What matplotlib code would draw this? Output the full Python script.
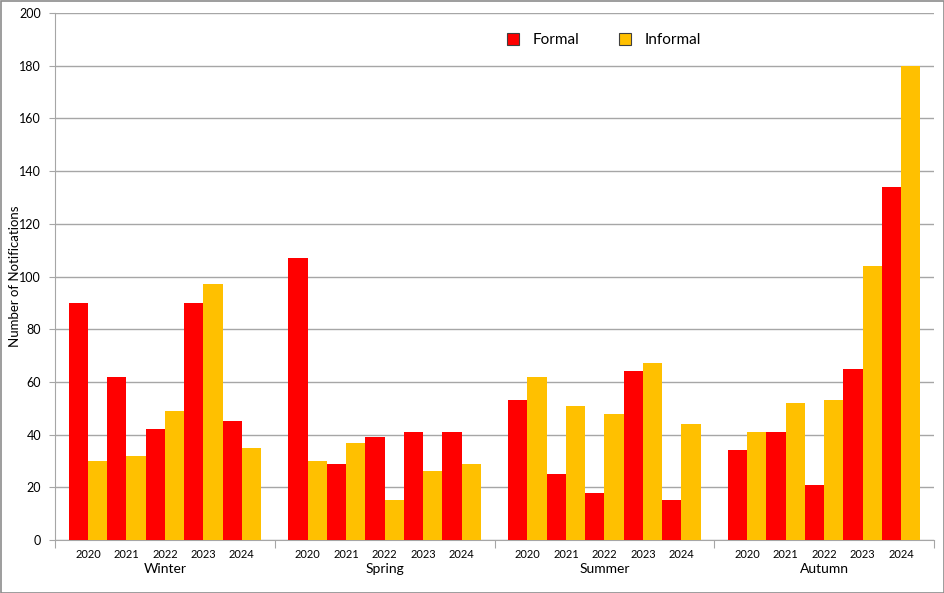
import numpy as np
import matplotlib.pyplot as plt
from matplotlib.patches import Patch, Rectangle

plt.rcParams['font.family'] = ['Lato', 'DejaVu Sans']

seasons = ['Winter', 'Spring', 'Summer', 'Autumn']
years = ['2020', '2021', '2022', '2023', '2024']

formal = {
    'Winter': [90, 62, 42, 90, 45],
    'Spring': [107, 29, 39, 41, 41],
    'Summer': [53, 25, 18, 64, 15],
    'Autumn': [34, 41, 21, 65, 134],
}
informal = {
    'Winter': [30, 32, 49, 97, 35],
    'Spring': [30, 37, 15, 26, 29],
    'Summer': [62, 51, 48, 67, 44],
    'Autumn': [41, 52, 53, 104, 180],
}

red = '#FF0000'
gold = '#FFC000'
grid_col = '#A6A6A6'

fig = plt.figure(figsize=(9.45, 5.93), dpi=100)
ax = fig.add_axes([55 / 945, 1 - 540 / 593, 879 / 945, 527 / 593])

step = 5 + 0.714  # one season block incl. gap
w = 0.5
for s, season in enumerate(seasons):
    x = s * step + np.arange(len(years))
    ax.bar(x - w / 2, formal[season], width=w, color=red, zorder=3)
    ax.bar(x + w / 2, informal[season], width=w, color=gold, zorder=3)
    for xi, yr in zip(x, years):
        ax.annotate(yr, xy=(xi, 0), xycoords=('data', 'axes fraction'),
                    xytext=(0, -14), textcoords='offset pixels',
                    ha='center', va='center', fontsize=8)
    ax.annotate(season, xy=(x.mean(), 0), xycoords=('data', 'axes fraction'),
                xytext=(0, -29), textcoords='offset pixels',
                ha='center', va='center', fontsize=10)

left = -0.857
ax.set_xlim(left, left + len(seasons) * step)
ax.set_ylim(0, 200)
ax.set_yticks(np.arange(0, 201, 20))
ax.tick_params(axis='y', labelsize=9, length=4, color=grid_col, pad=6)

bounds = left + step * np.arange(len(seasons) + 1)
ax.set_xticks(bounds)
ax.set_xticklabels([''] * len(bounds))
ax.tick_params(axis='x', length=6, color=grid_col)

ax.yaxis.grid(True, color=grid_col, linewidth=1)
ax.set_axisbelow(True)
for side in ['top', 'right']:
    ax.spines[side].set_visible(False)
for side in ['left', 'bottom']:
    ax.spines[side].set_color(grid_col)

ax.set_ylabel('Number of Notifications', fontsize=9.5)
ax.yaxis.set_label_coords(-34 / 879, 0.5)

handles = [Patch(facecolor=red, edgecolor='#404040', linewidth=0.8, label='Formal'),
           Patch(facecolor=gold, edgecolor='#404040', linewidth=0.8, label='Informal')]
fig.legend(handles=handles, loc='center', bbox_to_anchor=(604 / 945, 1 - 40 / 593),
           ncol=2, frameon=False, fontsize=11, handlelength=0.8, handleheight=0.8,
           columnspacing=2.6, handletextpad=0.9)

fig.patches.append(Rectangle((0.5 / 945, 0.5 / 593), 1 - 1.5 / 945, 1 - 1.5 / 593,
                             transform=fig.transFigure, fill=False,
                             edgecolor='#8C8C8C', linewidth=1.2))

fig.savefig('out.png', dpi=100)
